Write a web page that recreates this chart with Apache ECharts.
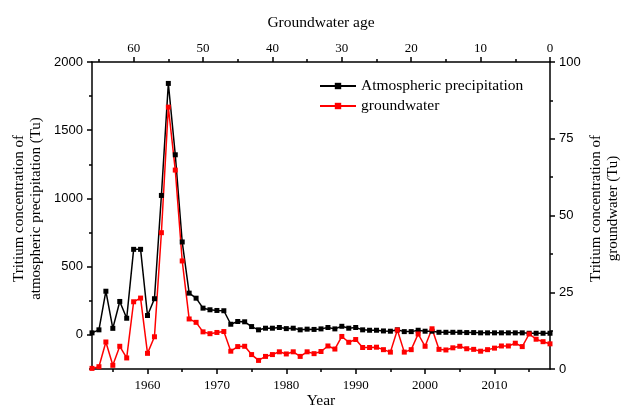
<!DOCTYPE html>
<html>
<head>
<meta charset="utf-8">
<script src="https://cdn.jsdelivr.net/npm/echarts@6/dist/echarts.min.js"></script>
<style>html,body{margin:0;padding:0;background:#fff}#c{width:623px;height:408px}</style>
</head>
<body>
<div id="c"></div>
<script>
const years = [1952,1953,1954,1955,1956,1957,1958,1959,1960,1961,1962,1963,1964,1965,1966,1967,1968,1969,1970,1971,1972,1973,1974,1975,1976,1977,1978,1979,1980,1981,1982,1983,1984,1985,1986,1987,1988,1989,1990,1991,1992,1993,1994,1995,1996,1997,1998,1999,2000,2001,2002,2003,2004,2005,2006,2007,2008,2009,2010,2011,2012,2013,2014,2015,2016,2017,2018];
const precipitation = [15,37,320,48,245,122,627,627,142,265,1022,1843,1320,681,306,269,196,184,179,177,78,98,96,61,37,49,49,54,46,49,37,42,40,44,54,44,63,49,54,37,34,34,29,27,37,24,24,34,27,27,19,19,19,19,17,17,15,15,15,15,15,15,15,12,12,12,12];
const groundwater = [0.2,0.75,8.8,1.2,7.4,3.6,21.9,23.1,5.1,10.5,44.4,85.3,64.8,35.2,16.3,15.2,12.1,11.5,11.9,12.2,5.8,7.3,7.4,4.7,2.8,4.1,4.7,5.6,4.9,5.6,4.1,5.6,5.0,5.7,7.5,6.5,10.6,8.7,9.6,7.0,7.0,7.1,6.3,5.5,12.7,5.5,6.3,11.4,7.4,13.1,6.4,6.2,6.9,7.4,6.6,6.4,5.8,6.3,6.8,7.5,7.5,8.4,7.3,11.4,9.7,8.9,8.2];
const yearTicks = [1960,1970,1980,1990,2000,2010];
const yearMinorTicks = [1955,1965,1975,1985,1995,2005,2015];
const ageTicks = [0,10,20,30,40,50,60];
const ageMinorTicks = [5,15,25,35,45,55,65];
const leftTicks = [0,500,1000,1500,2000];
const leftMinorTicks = [-250,250,750,1250,1750];
const rightTicks = [0,25,50,75,100];
const rightMinorTicks = [12.5,37.5,62.5,87.5];

const serif = 'Liberation Serif';
const sans = 'Liberation Sans';
const lineStyle = {color:'#000', width:1.5};
const plain = v => String(v);

function axisCommon(extra){
  return Object.assign({
    axisLine:{show:true, onZero:false, lineStyle:lineStyle},
    splitLine:{show:false},
    nameMoveOverlap:false
  }, extra);
}
const hiddenLine = {show:false, onZero:false};

const chart = echarts.init(document.getElementById('c'), null, {renderer:'canvas'});
chart.setOption({
  animation:false,
  backgroundColor:'#fff',
  grid:{left:92, right:73, top:62, bottom:39, containLabel:false, outerBoundsMode:'none'},
  legend:{
    orient:'vertical', left:314, top:73, itemWidth:36, itemHeight:8, itemGap:4,
    textStyle:{fontFamily:serif, fontSize:15.5, color:'#000'},
    data:['Atmospheric precipitation','groundwater']
  },
  xAxis:[
    axisCommon({type:'value', position:'bottom', min:1952, max:2018,
      name:'Year', nameLocation:'middle', nameGap:24,
      nameTextStyle:{fontFamily:serif, fontSize:15.5, color:'#000'},
      axisTick:{show:true, inside:false, length:5, customValues:yearTicks, lineStyle:lineStyle},
      axisLabel:{customValues:yearTicks, formatter:plain, fontFamily:serif, fontSize:13, color:'#000', margin:10}}),
    axisCommon({type:'value', position:'bottom', min:1952, max:2018,
      axisLine:hiddenLine,
      axisTick:{show:true, length:3, customValues:yearMinorTicks, lineStyle:lineStyle},
      axisLabel:{show:false}}),
    axisCommon({type:'value', position:'top', min:0, max:66, inverse:true,
      name:'Groundwater age', nameLocation:'middle', nameGap:31,
      nameTextStyle:{fontFamily:serif, fontSize:15.5, color:'#000'},
      axisTick:{show:true, length:5, customValues:ageTicks, lineStyle:lineStyle},
      axisLabel:{customValues:ageTicks, formatter:plain, fontFamily:serif, fontSize:13, color:'#000', margin:7}}),
    axisCommon({type:'value', position:'top', min:0, max:66, inverse:true,
      axisLine:hiddenLine,
      axisTick:{show:true, length:3, customValues:ageMinorTicks, lineStyle:lineStyle},
      axisLabel:{show:false}})
  ],
  yAxis:[
    axisCommon({type:'value', position:'left', min:-250, max:2000,
      name:'Tritium concentration of\natmospheric precipitation (Tu)', nameLocation:'middle', nameGap:47, nameRotate:90,
      nameTextStyle:{fontFamily:serif, fontSize:15, color:'#000', lineHeight:17, padding:[0,0,0,14]},
      axisTick:{show:true, length:5, customValues:leftTicks, lineStyle:lineStyle},
      axisLabel:{customValues:leftTicks, formatter:plain, fontFamily:sans, fontSize:13, color:'#000', margin:9}}),
    axisCommon({type:'value', position:'left', min:-250, max:2000,
      axisLine:hiddenLine,
      axisTick:{show:true, length:3, customValues:leftMinorTicks, lineStyle:lineStyle},
      axisLabel:{show:false}}),
    axisCommon({type:'value', position:'right', min:0, max:100,
      name:'Tritium concentration of\ngroundwater (Tu)', nameLocation:'middle', nameGap:38, nameRotate:90,
      nameTextStyle:{fontFamily:serif, fontSize:15, color:'#000', lineHeight:17, padding:[0,0,0,14]},
      axisTick:{show:true, length:5, customValues:rightTicks, lineStyle:lineStyle},
      axisLabel:{customValues:rightTicks, formatter:plain, fontFamily:sans, fontSize:13, color:'#000', margin:9}}),
    axisCommon({type:'value', position:'right', min:0, max:100,
      axisLine:hiddenLine,
      axisTick:{show:true, length:3, customValues:rightMinorTicks, lineStyle:lineStyle},
      axisLabel:{show:false}})
  ],
  series:[
    {name:'Atmospheric precipitation', type:'line', xAxisIndex:0, yAxisIndex:0,
      data:years.map((y,i)=>[y, precipitation[i]]),
      symbol:'rect', symbolSize:5, showAllSymbol:true,
      lineStyle:{color:'#000', width:1.5}, itemStyle:{color:'#000'}},
    {name:'groundwater', type:'line', xAxisIndex:0, yAxisIndex:2,
      data:years.map((y,i)=>[y, groundwater[i]]),
      symbol:'rect', symbolSize:5, showAllSymbol:true,
      lineStyle:{color:'#ff0000', width:1.5}, itemStyle:{color:'#ff0000'}}
  ]
});
</script>
</body>
</html>
